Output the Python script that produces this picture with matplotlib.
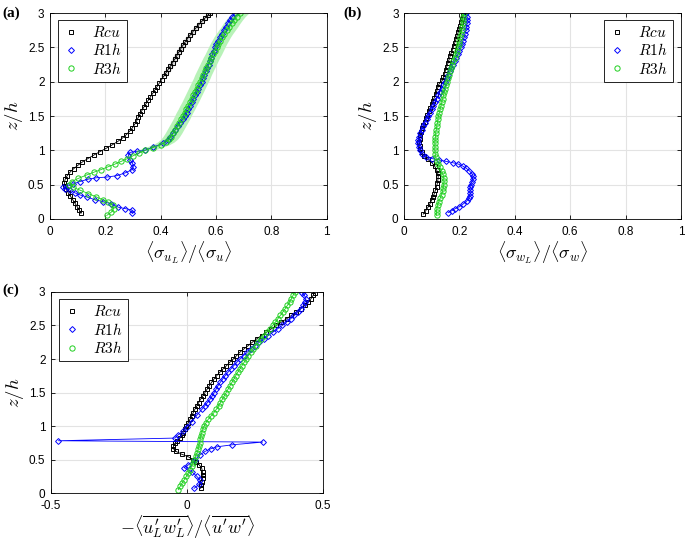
#!/usr/bin/env python3

"""three panel profile plot: Lagrangian / Eulerian statistics vs z/h"""

import matplotlib
matplotlib.use("Agg")
import matplotlib.pyplot as plt
from matplotlib.lines import Line2D
from matplotlib.ticker import FuncFormatter

plt.rcParams["font.family"] = ["Liberation Sans", "DejaVu Sans"]
plt.rcParams["mathtext.fontset"] = "cm"

# ---- panel (a): <sigma_uL>/<sigma_u> ----
a_rcu_z = [0.08, 0.13, 0.18, 0.23, 0.28, 0.33, 0.38, 0.43, 0.48, 0.53, 0.58, 0.63, 0.68, 0.73, 0.78,
           0.83, 0.88, 0.93, 0.98, 1.03, 1.08, 1.13, 1.18, 1.23, 1.28, 1.33, 1.38, 1.43, 1.48, 1.53,
           1.58, 1.63, 1.68, 1.73, 1.78, 1.83, 1.88, 1.93, 1.98, 2.03, 2.08, 2.13, 2.18, 2.23, 2.28,
           2.33, 2.38, 2.43, 2.48, 2.53, 2.58, 2.63, 2.68, 2.73, 2.78, 2.83, 2.88, 2.93, 2.98, 3.00]
a_rcu_x = [0.112, 0.106, 0.098, 0.090, 0.082, 0.074, 0.066, 0.059, 0.054, 0.052, 0.055, 0.062, 0.072,
           0.085, 0.100, 0.117, 0.137, 0.158, 0.180, 0.203, 0.225, 0.245, 0.262, 0.276, 0.288, 0.298,
           0.306, 0.313, 0.319, 0.325, 0.332, 0.339, 0.347, 0.355, 0.363, 0.371, 0.379, 0.387, 0.395,
           0.403, 0.411, 0.419, 0.427, 0.435, 0.443, 0.451, 0.458, 0.465, 0.472, 0.480, 0.488, 0.497,
           0.506, 0.516, 0.526, 0.537, 0.548, 0.560, 0.572, 0.578]

a_r1h_z = [0.09, 0.13, 0.15, 0.17, 0.22, 0.25, 0.28, 0.32, 0.35, 0.38, 0.42, 0.44, 0.46, 0.48, 0.51,
           0.545, 0.58, 0.60, 0.61, 0.63, 0.67, 0.715, 0.755, 0.82, 0.86, 0.93, 0.97, 0.985, 1.00, 1.05,
           1.10, 1.15, 1.20, 1.25, 1.30, 1.35, 1.40, 1.45, 1.50, 1.55, 1.60, 1.65, 1.70, 1.75, 1.80,
           1.85, 1.90, 1.95, 2.00, 2.05, 2.10, 2.15, 2.20, 2.25, 2.30, 2.35, 2.40, 2.45, 2.50, 2.55,
           2.60, 2.65, 2.70, 2.75, 2.80, 2.85, 2.90, 2.95, 3.00]
a_r1h_x = [0.298, 0.296, 0.272, 0.247, 0.222, 0.193, 0.162, 0.133, 0.108, 0.090, 0.072, 0.055, 0.048,
           0.066, 0.084, 0.108, 0.138, 0.168, 0.205, 0.241, 0.271, 0.295, 0.301, 0.298, 0.289, 0.283,
           0.289, 0.313, 0.343, 0.373, 0.410, 0.425, 0.435, 0.444, 0.452, 0.461, 0.470, 0.479, 0.488,
           0.494, 0.500, 0.506, 0.512, 0.518, 0.524, 0.530, 0.536, 0.542, 0.548, 0.553, 0.558, 0.563,
           0.568, 0.573, 0.578, 0.582, 0.587, 0.591, 0.596, 0.601, 0.607, 0.613, 0.620, 0.627, 0.635,
           0.642, 0.650, 0.659, 0.668]

a_r3h_z = [0.05, 0.10, 0.15, 0.20, 0.25, 0.28, 0.32, 0.37, 0.42, 0.46, 0.50, 0.545, 0.59, 0.64, 0.68,
           0.72, 0.76, 0.80, 0.84, 0.88, 0.92, 0.96, 1.00, 1.04, 1.08, 1.12, 1.16, 1.20, 1.25, 1.30,
           1.35, 1.40, 1.45, 1.50, 1.55, 1.60, 1.65, 1.70, 1.75, 1.80, 1.85, 1.90, 1.95, 2.00, 2.05,
           2.10, 2.15, 2.20, 2.25, 2.30, 2.35, 2.40, 2.45, 2.50, 2.55, 2.60, 2.65, 2.70, 2.75, 2.80,
           2.85, 2.90, 2.95, 3.00]
a_r3h_x = [0.205, 0.222, 0.230, 0.226, 0.208, 0.190, 0.168, 0.138, 0.108, 0.084, 0.070, 0.078, 0.102,
           0.132, 0.158, 0.185, 0.210, 0.235, 0.258, 0.280, 0.300, 0.322, 0.345, 0.372, 0.400, 0.418,
           0.430, 0.438, 0.446, 0.453, 0.460, 0.467, 0.474, 0.480, 0.486, 0.493, 0.499, 0.506, 0.512,
           0.518, 0.524, 0.530, 0.536, 0.542, 0.548, 0.553, 0.559, 0.565, 0.571, 0.577, 0.583, 0.590,
           0.596, 0.602, 0.608, 0.615, 0.622, 0.630, 0.639, 0.648, 0.656, 0.665, 0.675, 0.688]

# ---- panel (b): <sigma_wL>/<sigma_w> ----
b_rcu_z = [0.07, 0.12, 0.17, 0.22, 0.27, 0.32, 0.37, 0.42, 0.47, 0.52, 0.57, 0.62, 0.67, 0.72, 0.77,
           0.82, 0.87, 0.92, 0.97, 1.02, 1.07, 1.12, 1.17, 1.22, 1.27, 1.32, 1.37, 1.42, 1.47, 1.52,
           1.57, 1.62, 1.67, 1.72, 1.77, 1.82, 1.87, 1.92, 1.97, 2.02, 2.07, 2.12, 2.17, 2.22, 2.27,
           2.32, 2.37, 2.42, 2.47, 2.52, 2.57, 2.62, 2.67, 2.72, 2.77, 2.82, 2.87, 2.92, 2.97]
b_rcu_x = [0.069, 0.078, 0.086, 0.093, 0.099, 0.104, 0.109, 0.113, 0.117, 0.120, 0.122, 0.123, 0.121,
           0.117, 0.110, 0.100, 0.085, 0.072, 0.063, 0.058, 0.056, 0.055, 0.056, 0.058, 0.061, 0.065,
           0.069, 0.074, 0.079, 0.084, 0.089, 0.094, 0.099, 0.104, 0.109, 0.114, 0.118, 0.122, 0.126,
           0.138, 0.142, 0.146, 0.150, 0.154, 0.158, 0.162, 0.166, 0.170, 0.175, 0.179, 0.183, 0.187,
           0.191, 0.195, 0.199, 0.203, 0.207, 0.210, 0.213]

b_r1h_z = [0.09, 0.12, 0.15, 0.18, 0.22, 0.26, 0.30, 0.34, 0.38, 0.42, 0.46, 0.50, 0.54, 0.58, 0.62,
           0.66, 0.70, 0.74, 0.77, 0.80, 0.82, 0.84, 0.86, 0.88, 0.91, 0.95, 1.00, 1.05, 1.10, 1.15,
           1.20, 1.25, 1.30, 1.35, 1.40, 1.45, 1.50, 1.55, 1.60, 1.65, 1.70, 1.75, 1.80, 1.85, 1.90,
           1.95, 2.00, 2.05, 2.10, 2.15, 2.20, 2.25, 2.30, 2.35, 2.40, 2.45, 2.50, 2.55, 2.60, 2.65,
           2.70, 2.75, 2.80, 2.85, 2.90, 2.95, 3.00]
b_r1h_x = [0.159, 0.172, 0.185, 0.200, 0.214, 0.226, 0.234, 0.238, 0.239, 0.238, 0.238, 0.240, 0.244,
           0.248, 0.249, 0.245, 0.236, 0.224, 0.212, 0.195, 0.175, 0.150, 0.125, 0.100, 0.078, 0.063,
           0.056, 0.052, 0.050, 0.051, 0.054, 0.058, 0.063, 0.069, 0.075, 0.081, 0.087, 0.093, 0.099,
           0.105, 0.111, 0.117, 0.123, 0.129, 0.135, 0.141, 0.148, 0.154, 0.159, 0.165, 0.171, 0.177,
           0.183, 0.188, 0.194, 0.200, 0.205, 0.209, 0.213, 0.217, 0.220, 0.223, 0.225, 0.227, 0.228,
           0.227, 0.225]

b_r3h_z = [0.05, 0.10, 0.15, 0.20, 0.25, 0.30, 0.35, 0.40, 0.45, 0.50, 0.55, 0.60, 0.65, 0.70, 0.75,
           0.80, 0.85, 0.90, 0.95, 1.00, 1.05, 1.10, 1.15, 1.20, 1.25, 1.30, 1.35, 1.40, 1.45, 1.50,
           1.55, 1.60, 1.65, 1.70, 1.75, 1.80, 1.85, 1.90, 1.95, 2.00, 2.05, 2.10, 2.15, 2.20, 2.25,
           2.30, 2.35, 2.40, 2.45, 2.50, 2.55, 2.60, 2.65, 2.70, 2.75, 2.80, 2.85, 2.90, 2.95, 3.00]
b_r3h_x = [0.117, 0.117, 0.118, 0.121, 0.125, 0.130, 0.135, 0.139, 0.141, 0.143, 0.144, 0.143, 0.140,
           0.135, 0.130, 0.124, 0.118, 0.114, 0.112, 0.111, 0.111, 0.111, 0.112, 0.113, 0.114, 0.116,
           0.118, 0.120, 0.122, 0.124, 0.127, 0.130, 0.133, 0.136, 0.139, 0.142, 0.145, 0.148, 0.151,
           0.154, 0.158, 0.162, 0.166, 0.170, 0.174, 0.178, 0.182, 0.186, 0.190, 0.194, 0.197, 0.200,
           0.203, 0.206, 0.208, 0.210, 0.212, 0.213, 0.214, 0.215]

# ---- panel (c): -<u'L w'L>/<u'w'> ----
c_rcu_z = [0.07, 0.12, 0.17, 0.22, 0.27, 0.32, 0.37, 0.42, 0.46, 0.50, 0.54, 0.58, 0.62, 0.66, 0.70,
           0.74, 0.78, 0.82, 0.86, 0.90, 0.95, 1.00, 1.05, 1.10, 1.15, 1.20, 1.25, 1.30, 1.35, 1.40,
           1.45, 1.50, 1.55, 1.60, 1.65, 1.70, 1.75, 1.80, 1.85, 1.90, 1.95, 2.00, 2.05, 2.10, 2.15,
           2.20, 2.25, 2.30, 2.35, 2.40, 2.45, 2.50, 2.55, 2.60, 2.65, 2.70, 2.75, 2.80, 2.85, 2.90,
           2.95, 2.99]
c_rcu_x = [0.050, 0.053, 0.055, 0.057, 0.058, 0.057, 0.054, 0.045, 0.034, 0.022, 0.005, -0.020, -0.040,
           -0.050, -0.050, -0.045, -0.035, -0.026, -0.020, -0.015, -0.008, -0.002, 0.005, 0.011, 0.017,
           0.023, 0.029, 0.036, 0.043, 0.050, 0.058, 0.066, 0.074, 0.082, 0.090, 0.099, 0.109, 0.120,
           0.132, 0.145, 0.157, 0.170, 0.182, 0.194, 0.209, 0.225, 0.240, 0.256, 0.274, 0.292, 0.310,
           0.329, 0.347, 0.366, 0.384, 0.402, 0.418, 0.433, 0.445, 0.456, 0.464, 0.469]

c_r1h_z = [0.07, 0.13, 0.19, 0.25, 0.32, 0.38, 0.42, 0.49, 0.57, 0.62, 0.66, 0.69, 0.72, 0.76, 0.78,
           0.82, 0.87, 0.92, 0.99, 1.06, 1.16, 1.25, 1.30, 1.35, 1.40, 1.45, 1.50, 1.55, 1.60, 1.65,
           1.70, 1.75, 1.80, 1.85, 1.90, 1.95, 2.00, 2.05, 2.10, 2.15, 2.20, 2.25, 2.30, 2.35, 2.40,
           2.45, 2.50, 2.55, 2.60, 2.65, 2.70, 2.75, 2.80, 2.85, 2.90, 2.95, 2.99]
c_r1h_x = [0.026, 0.045, 0.048, 0.036, 0.017, -0.011, 0.005, 0.029, 0.048, 0.066, 0.087, 0.111, 0.167,
           0.278, -0.473, -0.044, -0.032, -0.013, -0.001, 0.017, 0.036, 0.055, 0.065, 0.075, 0.085,
           0.093, 0.100, 0.107, 0.114, 0.122, 0.131, 0.140, 0.150, 0.161, 0.172, 0.183, 0.195, 0.208,
           0.221, 0.235, 0.250, 0.266, 0.282, 0.299, 0.316, 0.333, 0.350, 0.366, 0.381, 0.395, 0.408,
           0.419, 0.428, 0.434, 0.437, 0.432, 0.423]

c_r3h_z = [0.05, 0.10, 0.15, 0.20, 0.25, 0.30, 0.35, 0.40, 0.45, 0.50, 0.55, 0.60, 0.65, 0.70, 0.75,
           0.80, 0.85, 0.90, 0.95, 1.00, 1.05, 1.10, 1.15, 1.20, 1.25, 1.30, 1.35, 1.40, 1.45, 1.50,
           1.55, 1.60, 1.65, 1.70, 1.75, 1.80, 1.85, 1.90, 1.95, 2.00, 2.05, 2.10, 2.15, 2.20, 2.25,
           2.30, 2.35, 2.40, 2.45, 2.50, 2.55, 2.60, 2.65, 2.70, 2.75, 2.80, 2.85, 2.90, 2.95, 3.00]
c_r3h_x = [-0.032, -0.025, -0.018, -0.010, -0.002, 0.005, 0.011, 0.017, 0.022, 0.027, 0.032, 0.037,
           0.041, 0.044, 0.046, 0.048, 0.051, 0.054, 0.058, 0.063, 0.070, 0.078, 0.088, 0.099, 0.108,
           0.116, 0.123, 0.130, 0.137, 0.144, 0.151, 0.158, 0.165, 0.172, 0.179, 0.186, 0.194, 0.202,
           0.210, 0.218, 0.226, 0.234, 0.243, 0.252, 0.262, 0.272, 0.283, 0.294, 0.305, 0.315, 0.325,
           0.334, 0.343, 0.352, 0.361, 0.369, 0.377, 0.384, 0.390, 0.396]

labels = ["$Rcu$", "$R1h$", "$R3h$"]
colors = ["black", "#0000ff", "#1fcf1f"]
markers = ["s", "D", "o"]
msizes = [3.2, 3.0, 3.8]

fmt = FuncFormatter(lambda v, p: "%g" % round(v, 2))


def style_axis(ax, xlim, xticks, xlabel):
    ax.set_xlim(*xlim)
    ax.set_ylim(0, 3)
    ax.set_xticks(xticks)
    ax.set_yticks([0, 0.5, 1, 1.5, 2, 2.5, 3])
    ax.xaxis.set_major_formatter(fmt)
    ax.yaxis.set_major_formatter(fmt)
    ax.grid(True, color="#e3e3e3", linewidth=0.8)
    ax.set_axisbelow(True)
    ax.tick_params(direction="in", length=3, width=0.6, labelsize=8.5,
                   top=True, right=True)
    ax.tick_params(axis="x", pad=5)
    ax.tick_params(axis="y", pad=4)
    for sp in ax.spines.values():
        sp.set_linewidth(0.6)
    ax.set_xlabel(xlabel, fontsize=13, labelpad=1)
    ax.set_ylabel("$z/h$", fontsize=13.5, labelpad=2)


def draw(ax, series):
    for (zz, xx), c, m, ms in zip(series, colors, markers, msizes):
        ax.plot(xx, zz, "-", color=c, linewidth=0.6, marker=m, markersize=ms,
                markerfacecolor="none", markeredgecolor=c, markeredgewidth=0.7)


def add_legend(ax, loc, anchor):
    handles = [Line2D([], [], linestyle="none", marker=m, markersize=ms, color=c,
                      markerfacecolor="none", markeredgewidth=0.7)
               for c, m, ms in zip(colors, markers, msizes)]
    leg = ax.legend(handles, labels, loc=loc, bbox_to_anchor=anchor, borderaxespad=0,
                    fontsize=11, handlelength=1.0, handletextpad=0.9, labelspacing=0.15,
                    borderpad=0.35, fancybox=False, framealpha=1, edgecolor="black")
    leg.get_frame().set_linewidth(0.6)


fig = plt.figure(figsize=(6.85, 5.5), dpi=100)

# (a)
ax_a = fig.add_axes([0.073, 0.602, 0.404, 0.374])
ax_a.fill_betweenx(a_r3h_z[22:], [v - 0.03 for v in a_r3h_x[22:]],
                   [v + 0.03 for v in a_r3h_x[22:]], color="#b8f2b8", linewidth=0)
ax_a.fill_betweenx(a_rcu_z[40:], [v - 0.012 for v in a_rcu_x[40:]],
                   [v + 0.012 for v in a_rcu_x[40:]], color="#d8d8d8", linewidth=0)
draw(ax_a, [(a_rcu_z, a_rcu_x), (a_r1h_z, a_r1h_x), (a_r3h_z, a_r3h_x)])
style_axis(ax_a, (0, 1), [0, 0.2, 0.4, 0.6, 0.8, 1],
           r"$\langle\sigma_{u_L}\rangle/\langle\sigma_u\rangle$")
add_legend(ax_a, "upper left", (0.029, 0.968))

# (b)
ax_b = fig.add_axes([0.590, 0.602, 0.404, 0.374])
draw(ax_b, [(b_rcu_z, b_rcu_x), (b_r1h_z, b_r1h_x), (b_r3h_z, b_r3h_x)])
style_axis(ax_b, (0, 1), [0, 0.2, 0.4, 0.6, 0.8, 1],
           r"$\langle\sigma_{w_L}\rangle/\langle\sigma_w\rangle$")
add_legend(ax_b, "upper right", (0.971, 0.968))

# (c)
ax_c = fig.add_axes([0.0745, 0.1036, 0.397, 0.3655])
draw(ax_c, [(c_rcu_z, c_rcu_x), (c_r1h_z, c_r1h_x), (c_r3h_z, c_r3h_x)])
style_axis(ax_c, (-0.5, 0.5), [-0.5, 0, 0.5],
           r"$-\langle\overline{u^{\prime}_{L}w^{\prime}_{L}}\rangle/"
           r"\langle\overline{u^{\prime}w^{\prime}}\rangle$")
add_legend(ax_c, "upper left", (0.029, 0.965))

for txt, x, y in [("(a)", 0.004, 0.975), ("(b)", 0.501, 0.975), ("(c)", 0.003, 0.472)]:
    fig.text(x, y, txt, fontsize=11, fontweight="bold",
             family=["Liberation Serif", "DejaVu Serif"], va="center")

fig.savefig("out.png", dpi=100)
